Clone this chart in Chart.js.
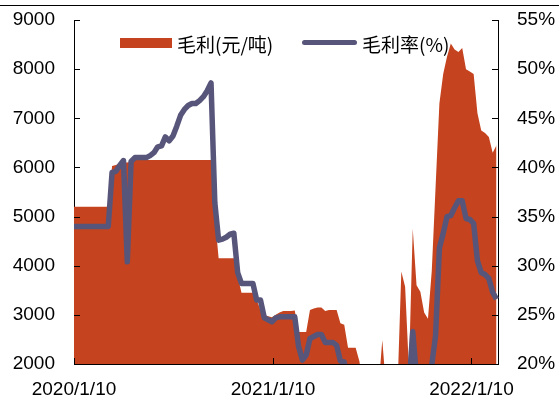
<!DOCTYPE html>
<html>
<head>
<meta charset="utf-8">
<script src="https://cdn.jsdelivr.net/npm/chart.js@4.4.0/dist/chart.umd.min.js"></script>
<style>
  html, body { margin: 0; padding: 0; background: #fff; }
  #wrap { position: relative; width: 559px; height: 396px; }
  #topRule { position: absolute; left: 0; top: 5px; width: 559px; border-top: 1.5px solid #000; }
  .leg { position: absolute; font-family: "Noto Sans CJK SC", sans-serif; font-size: 19px; color: #000; line-height: 19px; white-space: nowrap; }
  .box { position: absolute; }
</style>
</head>
<body>
<div id="wrap">
  <canvas id="marginChart" width="559" height="396"></canvas>
  <div id="topRule"></div>
  <div class="box" style="left:120px; top:38px; width:52px; height:10px; background:#c5441f;"></div>
  <div class="leg" style="left:177px; top:34px;">毛利(元/吨)</div>
  <div class="box" style="left:302px; top:40px; width:55px; height:5px; border-radius:3px; background:#58557a;"></div>
  <div class="leg" style="left:362px; top:34px;">毛利率(%)</div>
</div>
<script>
// weekly data, first week 2020/1/10
const startDate = '2020/1/10';
const tickLabels = ['2020/1/10', '2021/1/10', '2022/1/10'];

// 毛利(元/吨)
const grossProfit = [
  5200, 5200, 5200, 5200, 5200, 5200, 5200, 5200, 5200, 5200,
  6030, 6050, 6080, 6100, 6100, 6120,
  6150, 6150, 6150, 6150, 6150, 6150, 6150, 6150, 6150, 6150, 6150,
  6150, 6150, 6150, 6150, 6150, 6150, 6150, 6150, 6150, 6150,
  5000, 4150, 4150, 4150, 4150, 4150, 3800, 3450, 3450, 3450, 3450,
  3300, 3100, 3000, 2970, 2950, 3000, 3050, 3080, 3080, 3080, 3090,
  2650, 2650, 2650, 3100, 3130, 3150, 3150, 3080, 3100, 3100, 3100,
  2830, 2800, 2330, 2330, 2330, 2050,
  1500, 1500, 1500, 1500, 1500, 2490, 1500, 1500, 1500, 1500,
  3880, 3570, 1900, 4750, 3600, 3470, 3050, 2920, 3900, 5600,
  7300, 7900, 8250, 8520, 8400, 8350, 8430, 8000, 7950, 7900,
  7100, 6750, 6700, 6620, 6300, 6450
];

// 毛利率(%)
const grossMargin = [
  34.0, 34.0, 34.0, 34.0, 34.0, 34.0, 34.0, 34.0, 34.0, 34.0,
  39.5, 39.6, 40.2, 40.7, 30.4, 40.6,
  41.0, 41.0, 41.0, 41.0,
  41.2, 41.5, 42.1, 42.2, 43.1, 42.7, 43.2, 44.2, 45.3, 45.9,
  46.3, 46.5, 46.5, 46.8, 47.2, 47.8, 48.6,
  36.4, 32.6, 32.7, 32.9, 33.2, 33.3, 29.3,
  28.2, 28.2, 28.2, 28.2,
  26.5, 26.5, 24.7, 24.5, 24.3, 24.7,
  24.8, 24.8, 24.8, 24.8, 24.8,
  21.8, 20.4, 20.9, 22.6, 22.8, 23.0, 23.0, 22.2, 22.2, 22.2, 21.9, 20.3, 20.2, 17,
  15, 15, 15, 15, 15, 15, 15, 15, 15, 15, 15, 15, 15, 15, 15,
  17.7, 23.3, 18.6,
  15, 15, 15,
  19.9, 22.9, 31.8, 33.3, 35.0, 35.1, 35.9, 36.6, 36.6, 34.8,
  34.7, 34.3, 30.5, 29.3, 29.1, 28.7, 27.3, 26.6
];

const dayMs = 86400000;
const t0 = new Date(startDate).getTime();
const toWeek = (s) => (new Date(s).getTime() - t0) / dayMs / 7;
const tickWeeks = tickLabels.map(toWeek);

const profitPoints = grossProfit.map((v, i) => ({ x: i, y: v }));
const marginPoints = grossMargin.map((v, i) => ({ x: i, y: v }));

const axisFont = { family: '"Liberation Sans", Arial, sans-serif', size: 19 };

// short tick marks pointing into the plot
const innerTicks = {
  id: 'innerTicks',
  afterDraw(chart) {
    const { ctx, chartArea: a, scales } = chart;
    ctx.save();
    ctx.strokeStyle = '#000';
    ctx.lineWidth = 1;
    ctx.beginPath();
    scales.y.ticks.forEach(t => {
      const y = Math.round(scales.y.getPixelForValue(t.value)) + 0.5;
      ctx.moveTo(a.left, y); ctx.lineTo(a.left + 6, y);
    });
    scales.y1.ticks.forEach(t => {
      const y = Math.round(scales.y1.getPixelForValue(t.value)) + 0.5;
      ctx.moveTo(a.right, y); ctx.lineTo(a.right - 6, y);
    });
    tickWeeks.forEach(w => {
      const x = Math.round(scales.x.getPixelForValue(w)) + 0.5;
      ctx.moveTo(x, a.bottom); ctx.lineTo(x, a.bottom - 6);
    });
    ctx.stroke();
    ctx.restore();
  }
};

const fitVertical = (w) => (scale) => {
  scale.width = w;
  scale.paddingTop = 0;
  scale.paddingBottom = 0;
};

const marginChart = new Chart(document.getElementById('marginChart'), {
  type: 'line',
  data: {
    datasets: [{
      label: '毛利(元/吨)',
      data: profitPoints,
      yAxisID: 'y',
      fill: 'start',
      backgroundColor: '#c5441f',
      borderWidth: 0,
      pointRadius: 0,
      order: 2,
      clip: 0,
    }, {
      label: '毛利率(%)',
      data: marginPoints,
      yAxisID: 'y1',
      fill: false,
      borderColor: '#58557a',
      borderWidth: 5.5,
      borderJoinStyle: 'round',
      pointRadius: 0,
      order: 1,
      clip: { left: 5, top: 5, right: 5, bottom: 0 },
    }]
  },
  options: {
    responsive: false,
    animation: false,
    layout: { padding: { top: 20, left: 0, right: 0, bottom: 0 } },
    plugins: {
      legend: { display: false },
      tooltip: { enabled: false },
    },
    scales: {
      x: {
        type: 'linear',
        min: 0,
        max: 111.4,
        bounds: 'data',
        afterBuildTicks: (scale) => { scale.ticks = tickWeeks.map(w => ({ value: w })); },
        afterFit: (scale) => { scale.height = 32; },
        ticks: {
          autoSkip: false,
          maxRotation: 0,
          padding: 14,
          color: '#000',
          font: axisFont,
          callback: (v) => {
            const i = tickWeeks.findIndex(w => Math.abs(w - v) < 0.01);
            return i >= 0 ? tickLabels[i] : '';
          }
        },
        grid: { drawOnChartArea: false, drawTicks: false },
        border: { display: true, color: '#000', width: 1 },
      },
      y: {
        position: 'left',
        min: 2000,
        max: 9000,
        afterFit: fitVertical(74),
        ticks: { stepSize: 1000, padding: 19, color: '#000', font: axisFont, callback: (v) => String(v) },
        grid: { drawOnChartArea: false, drawTicks: false },
        border: { display: true, color: '#000', width: 1 },
      },
      y1: {
        position: 'right',
        min: 20,
        max: 55,
        afterFit: fitVertical(61),
        ticks: { stepSize: 5, padding: 19, color: '#000', font: axisFont, callback: (v) => v + '%' },
        grid: { drawOnChartArea: false, drawTicks: false },
        border: { display: true, color: '#000', width: 1 },
      }
    }
  },
  plugins: [innerTicks]
});
</script>
</body>
</html>
